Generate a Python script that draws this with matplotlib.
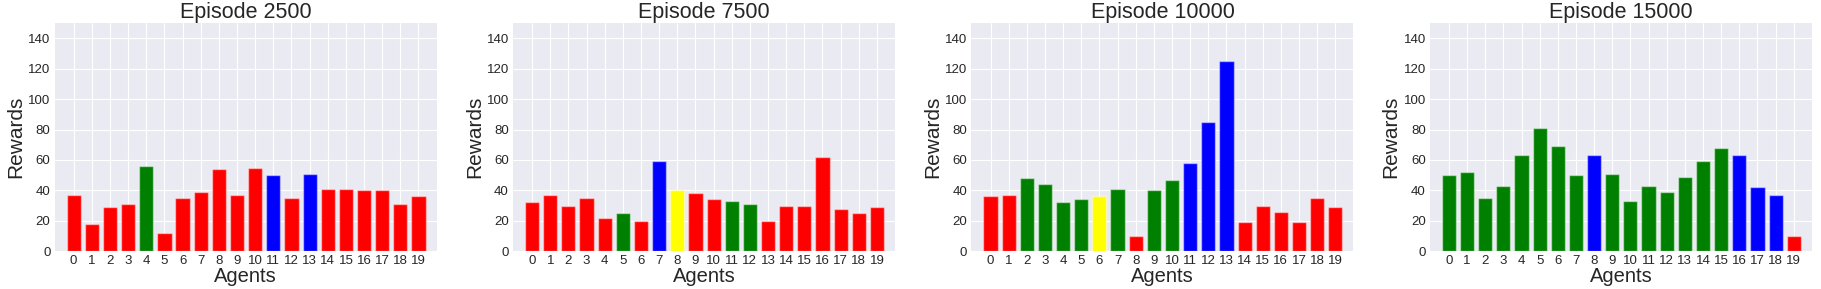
import matplotlib
matplotlib.use('Agg')
import matplotlib.pyplot as plt
import numpy as np

plt.style.use('seaborn-v0_8-darkgrid')
plt.rcParams['font.family'] = ['Liberation Sans', 'DejaVu Sans']

agents = list(range(20))
episodes = ["Episode 2500", "Episode 7500", "Episode 10000", "Episode 15000"]

rewards_2500 = [37, 18, 29, 31, 56, 12, 35, 39, 54, 37, 55, 50, 35, 51, 41, 41, 40, 40, 31, 36]
rewards_7500 = [32, 37, 30, 35, 22, 25, 20, 59, 40, 38, 34, 33, 31, 20, 30, 30, 62, 28, 25, 29]
rewards_10000 = [36, 37, 48, 44, 32, 34, 36, 41, 10, 40, 47, 58, 85, 125, 19, 30, 26, 19, 35, 29]
rewards_15000 = [50, 52, 35, 43, 63, 81, 69, 50, 63, 51, 33, 43, 39, 49, 59, 68, 63, 42, 37, 10]

# r = red, g = green, b = blue, y = yellow
colors_2500 = "rrrrgrrrrrrbrbrrrrrr"
colors_7500 = "rrrrrgrbyrrggrrrrrrr"
colors_10000 = "rrggggygrggbbbrrrrrr"
colors_15000 = "ggggggggbgggggggbbbr"

color_map = {'r': 'red', 'g': 'green', 'b': 'blue', 'y': 'yellow'}

all_rewards = [rewards_2500, rewards_7500, rewards_10000, rewards_15000]
all_colors = [colors_2500, colors_7500, colors_10000, colors_15000]

fig, axes = plt.subplots(1, 4, figsize=(18.21, 2.89), dpi=100)
fig.subplots_adjust(left=0.030, right=0.995, top=0.920, bottom=0.131, wspace=0.2)

for ax, title, vals, cols in zip(axes, episodes, all_rewards, all_colors):
    ax.bar(agents, vals, width=0.78, color=[color_map[c] for c in cols],
           edgecolor=(1, 1, 1, 0.45), linewidth=1.0)
    ax.set_title(title, fontsize=15.5, color='#262626', pad=3)
    ax.set_xlabel("Agents", fontsize=14.5, labelpad=0)
    ax.set_ylabel("Rewards", fontsize=15, labelpad=2)
    ax.set_ylim(0, 150)
    ax.set_xlim(-1.05, 20.0)
    ax.set_yticks(np.arange(0, 141, 20))
    ax.set_xticks(agents)
    ax.tick_params(labelsize=9.5, pad=3)

plt.savefig("out.png", dpi=100)
plt.close()
